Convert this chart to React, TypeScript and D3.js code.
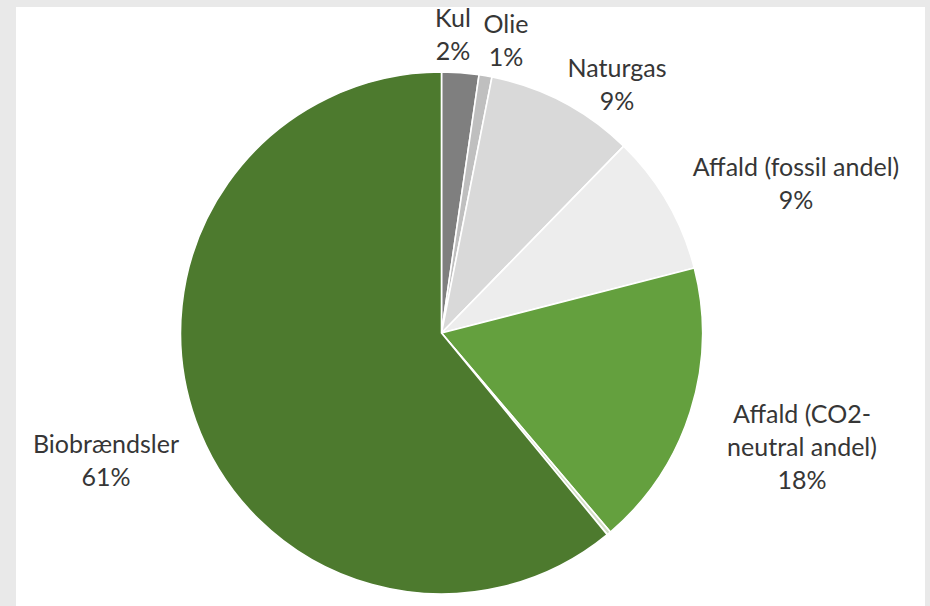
import React from "react";
import * as d3 from "d3";

const categories = ["Kul", "Olie", "Naturgas", "Affald (fossil andel)", "Affald (CO2-neutral andel)", "Øvrige", "Biobrændsler"];
const values = [2.3, 0.8, 9.2, 8.7, 17.8, 0.25, 60.95];
const percentLabels = ["2%", "1%", "9%", "9%", "18%", "", "61%"];
const labelLines: string[][] = [["Kul"], ["Olie"], ["Naturgas"], ["Affald (fossil andel)"], ["Affald (CO2-", "neutral andel)"], [], ["Biobrændsler"]];
const colors = ["#7f7f7f", "#bfbfbf", "#d9d9d9", "#ededed", "#64a03e", "#d3dfc8", "#4d7a2e"];
// label anchor (centre x, first baseline y) per slice
const labelPos: [number, number][] = [[453, 27], [506, 33], [617, 77], [796, 176], [802, 423], [0, 0], [106, 453]];

export default function App() {
  const W = 930, H = 606;
  const cx = 441.5, cy = 333, r = 261;
  const pie = d3.pie<number>().sort(null).startAngle(0).endAngle(2 * Math.PI);
  const arcs = pie(values);
  const arc = d3.arc<d3.PieArcDatum<number>>().innerRadius(0).outerRadius(r);
  const lineH = 33;
  return (
    <svg width={W} height={H} style={{ position: "absolute", left: 0, top: 0 }}>
      <rect x={0} y={0} width={W} height={H} fill="#e9e9e9" />
      <rect x={16} y={7} width={909} height={H - 7} fill="#ffffff" />
      <g transform={`translate(${cx},${cy})`}>
        {arcs.map((a, i) => (
          <path key={i} d={arc(a) || ""} fill={colors[i]} stroke="#ffffff" strokeWidth={1.6} strokeLinejoin="round" />
        ))}
      </g>
      <g fontFamily="Lato, 'Open Sans', sans-serif" fontSize={25} fill="#363636" textAnchor="middle">
        {categories.map((c, i) => {
          if (!percentLabels[i]) return null;
          const [x, y] = labelPos[i];
          const lines = [...labelLines[i], percentLabels[i]];
          return (
            <text key={c} x={x} y={y}>
              {lines.map((l, j) => (
                <tspan key={j} x={x} y={y + j * lineH}>{l}</tspan>
              ))}
            </text>
          );
        })}
      </g>
    </svg>
  );
}
